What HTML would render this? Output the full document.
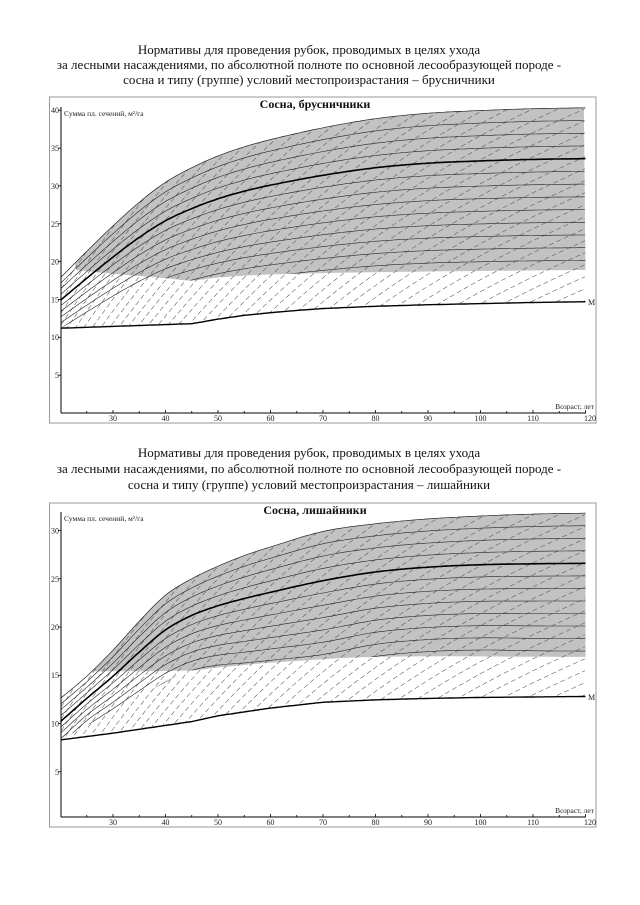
<!DOCTYPE html>
<html><head><meta charset="utf-8">
<style>
html,body{margin:0;padding:0;background:#fff;width:640px;height:905px;overflow:hidden;}
svg{display:block;}
.t{font-family:"Liberation Serif","DejaVu Serif",serif;font-size:13px;fill:#111;}
.ct{font-family:"Liberation Serif","DejaVu Serif",serif;font-size:12px;font-weight:bold;fill:#111;}
.s{font-family:"Liberation Serif","DejaVu Serif",serif;font-size:8px;fill:#222;}
.sl{font-family:"Liberation Serif","DejaVu Serif",serif;font-size:7.5px;fill:#222;}
</style></head>
<body>
<svg id="sv" width="640" height="905" viewBox="0 0 640 905" xmlns="http://www.w3.org/2000/svg" overflow="hidden">
<rect width="640" height="905" fill="#fff"/>
<g id="c1"></g>
<g id="c2"></g>

<text class="t" x="309" y="54" text-anchor="middle">Нормативы для проведения рубок, проводимых в целях ухода</text>
<text class="t" x="309" y="69" text-anchor="middle">за лесными насаждениями, по абсолютной полноте по основной лесообразующей породе -</text>
<text class="t" x="309" y="84" text-anchor="middle">сосна и типу (группе) условий местопроизрастания – брусничники</text>

<text class="t" x="309" y="457" text-anchor="middle">Нормативы для проведения рубок, проводимых в целях ухода</text>
<text class="t" x="309" y="473" text-anchor="middle">за лесными насаждениями, по абсолютной полноте по основной лесообразующей породе -</text>
<text class="t" x="309" y="489" text-anchor="middle">сосна и типу (группе) условий местопроизрастания – лишайники</text>

<text class="ct" x="315" y="108" text-anchor="middle">Сосна, брусничники</text>
<text class="sl" x="64" y="116">Сумма пл. сечений, м²/га</text>
<g class="s" text-anchor="end">
<text x="59" y="378">5</text><text x="59" y="340">10</text><text x="59" y="302.5">15</text>
<text x="59" y="264.5">20</text><text x="59" y="227">25</text><text x="59" y="189">30</text>
<text x="59" y="151">35</text><text x="59" y="113">40</text>
</g>
<g class="s" text-anchor="middle">
<text x="113" y="421">30</text><text x="165.5" y="421">40</text><text x="218" y="421">50</text>
<text x="270.5" y="421">60</text><text x="323" y="421">70</text><text x="375.5" y="421">80</text>
<text x="428" y="421">90</text><text x="480.5" y="421">100</text><text x="533" y="421">110</text>
<text x="590" y="421">120</text>
</g>
<text class="sl" x="594" y="409" text-anchor="end">Возраст, лет</text>
<text class="s" x="588" y="305">M</text>

<text class="ct" x="315" y="514" text-anchor="middle">Сосна, лишайники</text>
<text class="sl" x="64" y="521">Сумма пл. сечений, м²/га</text>
<g class="s" text-anchor="end">
<text x="59" y="775">5</text><text x="59" y="726.5">10</text><text x="59" y="678">15</text>
<text x="59" y="630">20</text><text x="59" y="582">25</text><text x="59" y="533.5">30</text>
</g>
<g class="s" text-anchor="middle">
<text x="113" y="825">30</text><text x="165.5" y="825">40</text><text x="218" y="825">50</text>
<text x="270.5" y="825">60</text><text x="323" y="825">70</text><text x="375.5" y="825">80</text>
<text x="428" y="825">90</text><text x="480.5" y="825">100</text><text x="533" y="825">110</text>
<text x="590" y="825">120</text>
</g>
<text class="sl" x="594" y="813" text-anchor="end">Возраст, лет</text>
<text class="s" x="588" y="700">M</text>
</svg>

<script>
function H(t,a){
  var n=t.length;
  if(a<=t[0][0]) return t[0][1];
  if(a>=t[n-1][0]) return t[n-1][1];
  var i=0; while(t[i+1][0]<a) i++;
  var p1=t[i],p2=t[i+1],p0=t[i-1]||p1,p3=t[i+2]||p2;
  var h=p2[0]-p1[0],u=(a-p1[0])/h;
  var d1=(p2[1]-p0[1])/(p2[0]-p0[0])*h, d2=(p3[1]-p1[1])/(p3[0]-p1[0])*h;
  var u2=u*u,u3=u2*u;
  return (2*u3-3*u2+1)*p1[1]+(u3-2*u2+u)*d1+(-2*u3+3*u2)*p2[1]+(u3-u2)*d2;
}
function lin(t,a){
  if(a<=t[0][0]) return t[0][1];
  for(var i=0;i<t.length-1;i++){
    if(a<=t[i+1][0]){var u=(a-t[i][0])/(t[i+1][0]-t[i][0]);return t[i][1]+u*(t[i+1][1]-t[i][1]);}
  }
  return t[t.length-1][1];
}
function X(a){return 113+5.25*(a-30);}
function P(p){return p.map(function(q){return q[0].toFixed(1)+','+q[1].toFixed(1);}).join(' ');}

function chart(c){
  var Y=c.Y, th=function(a){return H(c.thick,a);}, tp=c.topf, m=function(a){return lin(c.M,a);}, g=function(a){return H(c.gb,a);};
  var s='', a, i, pts;
  s+='<rect x="49.5" y="'+c.fy0+'" width="546.5" height="'+(c.fy1-c.fy0)+'" fill="none" stroke="#9a9a9a" stroke-width="1"/>';
  pts=[];
  for(a=c.ag0;a<=120.001;a+=0.5) pts.push([X(a),Y(tp(a))]);
  for(a=120;a>=c.ag0-0.001;a-=0.5) pts.push([X(a),Y(g(a))]);
  var grayPts=P(pts);
  var hp=[];
  for(a=20;a<=120.001;a+=0.5) hp.push([X(a),Y(m(a))]);
  for(a=120;a>=19.999;a-=0.5) hp.push([X(a),Y(tp(a))]);
  var wp=[[X(20),Y(m(20))]];
  for(a=20;a<=c.ag0+0.001;a+=0.5) wp.push([X(a),Y(tp(a))]);
  for(a=c.ag0;a<=c.aw+0.001;a+=0.5) wp.push([X(a),Y(g(a))]);
  s+='<defs><clipPath id="h'+c.id+'"><polygon points="'+P(hp)+'"/></clipPath>'+
     '<clipPath id="f'+c.id+'"><polygon points="'+grayPts+'"/><polygon points="'+P(wp)+'"/></clipPath></defs>';
  s+='<polygon points="'+grayPts+'" fill="#c2c2c2"/>';
  var F=[0], xs=[61], x;
  for(x=63;x<=586.01;x+=2){
    var u=(x-1-61)/525, sl=0.45+1.05*Math.pow(Math.max(0,1-u),1.5);
    F.push(F[F.length-1]+sl*2); xs.push(x);
  }
  s+='<g clip-path="url(#h'+c.id+')" fill="none" stroke="#555" stroke-width="0.55" stroke-dasharray="5 3">';
  var Fend=F[F.length-1];
  for(var cc=c.fy0; cc<=c.axisY+Fend+10; cc+=c.hs){
    pts=[];
    for(i=0;i<xs.length;i++){
      var yy=cc-F[i];
      if(yy<=c.axisY+2 && yy>=c.fy0) pts.push([xs[i],yy]);
    }
    if(pts.length>1) s+='<polyline points="'+P(pts)+'"/>';
  }
  s+='</g>';
  s+='<g clip-path="url(#f'+c.id+')" fill="none" stroke="#222" stroke-width="0.6">';
  for(var k=c.kmin;k<=3;k++){
    if(k===0) continue;
    pts=[];
    for(a=20;a<=120.001;a+=0.5){var t=th(a),T=tp(a);pts.push([X(a),Y(t+k*(T-t)/4)]);}
    s+='<polyline points="'+P(pts)+'"/>';
  }
  s+='</g>';
  pts=[]; for(a=20;a<=120.001;a+=0.5) pts.push([X(a),Y(tp(a))]);
  s+='<polyline points="'+P(pts)+'" fill="none" stroke="#222" stroke-width="0.7"/>';
  pts=[]; for(a=20;a<=120.001;a+=0.5) pts.push([X(a),Y(th(a))]);
  s+='<polyline points="'+P(pts)+'" fill="none" stroke="#000" stroke-width="1.6"/>';
  pts=[]; for(a=20;a<=120.001;a+=0.5) pts.push([X(a),Y(m(a))]);
  s+='<polyline points="'+P(pts)+'" fill="none" stroke="#000" stroke-width="1.4"/>';
  s+='<line x1="61" y1="'+c.axisY+'" x2="61" y2="'+c.ytop+'" stroke="#000" stroke-width="1"/>';
  s+='<line x1="61" y1="'+c.axisY+'" x2="586" y2="'+c.axisY+'" stroke="#000" stroke-width="1"/>';
  for(var v=5;v<=c.vmax;v+=5){var yv=Y(v);s+='<line x1="58" y1="'+yv+'" x2="61" y2="'+yv+'" stroke="#000" stroke-width="0.8"/>';}
  for(a=25;a<=120;a+=5){var xa=X(a),len=(a%10===0)?3:2;s+='<line x1="'+xa+'" y1="'+c.axisY+'" x2="'+xa+'" y2="'+(c.axisY-len)+'" stroke="#000" stroke-width="0.8"/>';}
  document.getElementById('c'+c.id).innerHTML=s;
}

var thick1=[[20,14.9],[25,17.8],[30,20.6],[35,23.2],[40,25.4],[45,27.0],[50,28.3],[55,29.3],[60,30.1],[70,31.4],[80,32.4],[90,33.0],[100,33.3],[110,33.5],[120,33.6]];
chart({id:1,Y:function(v){return 413-7.57*v;},thick:thick1,topf:function(a){return 1.2*H(thick1,a);},
  M:[[20,11.2],[45,11.8],[50,12.4],[55,12.9],[60,13.25],[65,13.55],[70,13.8],[80,14.1],[90,14.3],[100,14.45],[110,14.6],[120,14.7]],
  gb:[[22.7,18.9],[30,18.4],[40,17.8],[45,17.5],[50,17.9],[60,18.3],[80,18.6],[120,18.9]],
  ag0:22.7,aw:38,kmin:-9,fy0:97,fy1:423,axisY:413,ytop:107,vmax:40,hs:12});

var top2=[[20,12.6],[25,14.9],[30,17.6],[35,20.6],[40,23.3],[45,25.0],[50,26.3],[55,27.4],[60,28.3],[70,29.9],[80,30.7],[90,31.2],[100,31.5],[110,31.7],[120,31.8]];
chart({id:2,Y:function(v){return 820-9.65*v;},
  thick:[[20,10.2],[25,12.6],[30,14.9],[35,17.4],[40,19.7],[45,21.2],[50,22.2],[55,22.95],[60,23.6],[70,24.8],[80,25.7],[90,26.2],[100,26.45],[110,26.55],[120,26.6]],
  topf:function(a){return H(top2,a);},
  M:[[20,8.3],[30,9.0],[45,10.2],[50,10.8],[55,11.2],[60,11.6],[70,12.2],[80,12.45],[90,12.6],[100,12.7],[120,12.8]],
  gb:[[26,15.4],[45,15.5],[50,15.8],[60,16.3],[80,16.9],[120,16.9]],
  ag0:26,aw:44,kmin:-8,fy0:503,fy1:827,axisY:817,ytop:512,vmax:30,hs:12});
</script>
</body></html>
